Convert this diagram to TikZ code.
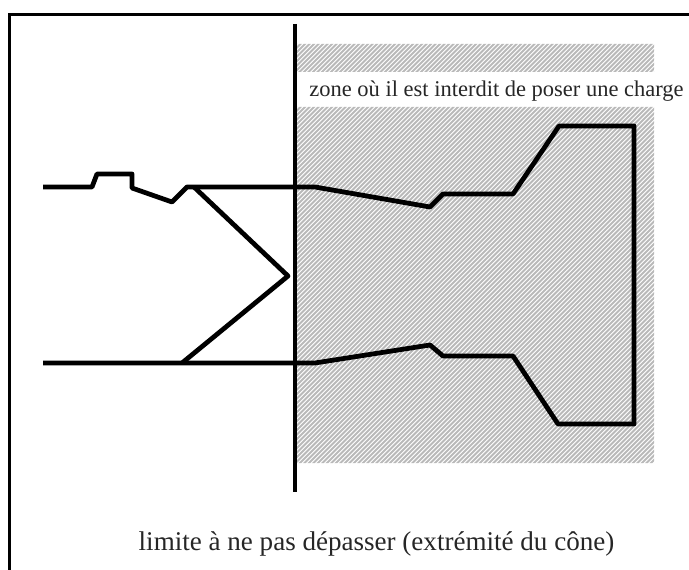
\documentclass[tikz,border=0pt]{standalone}
\usepackage{fontspec}
\setmainfont{Liberation Serif}
\tikzset{
  profil/.style={line width=0.095cm,line join=round},
  hachure/.style={gray!55,line width=0.04cm},
  legende/.style={inner sep=0pt,text=black!85}
}
\begin{document}
\begin{tikzpicture}[x=0.02cm,y=-0.02cm]
\useasboundingbox (0,0) rectangle (689,570);
% zone hachuree
\begin{scope}
\clip (296,44) rectangle (654,72) (296,107) rectangle (654,463);
\foreach \i in {-130,-125.5,...,660}
  \draw[hachure] (\i,470)--(\i+430,40);
\end{scope}
% cadre
\draw[line width=0.07cm] (9.5,570)--(9.5,14.5)--(689,14.5);
% limite
\draw[line width=0.08cm] (295,24)--(295,492);
%
\draw[profil] (43,187)--(92,187)--(97,174)--(132,174)--(132,188)--(172,202)--(187,187)--(315,187)--(430,207)--(443,194)--(513,194)--(559,126)--(634,126)--(634,424)--(558,424)--(513,356)--(443,356)--(430,345)--(315,363)--(43,363);
\draw[profil] (194,187)--(288,276)--(182,363);
%
\node[legende,font=\fontsize{12.8}{15}\selectfont] (zone) at (496.5,91) {zone où il est interdit de poser une charge};
\node[legende,font=\fontsize{15.4}{18}\selectfont] (limite) at (376.5,544) {limite à ne pas dépasser (extrémité du cône)};
\end{tikzpicture}
\end{document}
